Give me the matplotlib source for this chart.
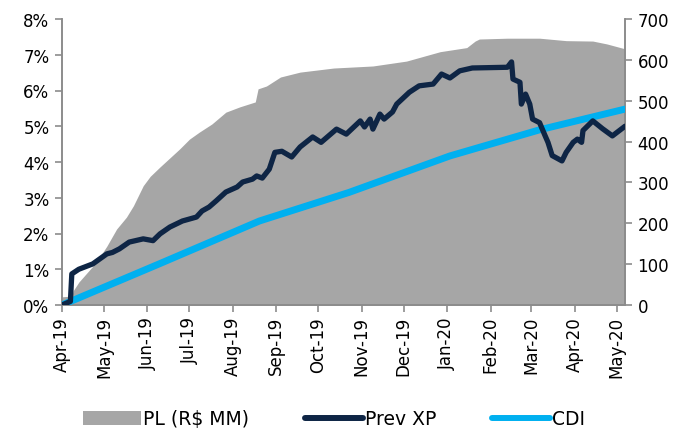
import matplotlib
matplotlib.use("Agg")
import matplotlib.pyplot as plt
from matplotlib.ticker import FuncFormatter, MultipleLocator
from matplotlib.patches import Patch
from matplotlib.lines import Line2D
import pandas as pd

plt.rcParams['font.family'] = ['DejaVu Sans']

# PL (R$ MM) - right axis
pl_dates = ['2019-04-01', '2019-04-08', '2019-04-09', '2019-04-13', '2019-04-23', '2019-04-28',
            '2019-05-03', '2019-05-10', '2019-05-17', '2019-05-22', '2019-05-29', '2019-06-03',
            '2019-06-10', '2019-06-17', '2019-06-24', '2019-07-01', '2019-07-08', '2019-07-17',
            '2019-07-27', '2019-08-06', '2019-08-17', '2019-08-19', '2019-08-25', '2019-09-04',
            '2019-09-18', '2019-10-12', '2019-11-09', '2019-12-03', '2019-12-27', '2020-01-15',
            '2020-01-21', '2020-01-24', '2020-02-13', '2020-03-07', '2020-03-26', '2020-04-14',
            '2020-04-24', '2020-05-07']
pl_values = [20, 22, 35, 56, 95, 118,
             144, 186, 215, 243, 292, 315,
             338, 360, 382, 406, 423, 443,
             472, 485, 497, 529, 536, 558,
             570, 580, 585, 597, 620, 630,
             646, 651, 653, 653, 647, 646,
             639, 627]

# Prev XP (%) - left axis
xp_dates = ['2019-04-01', '2019-04-04', '2019-04-07', '2019-04-08', '2019-04-13', '2019-04-23',
            '2019-04-28', '2019-05-03', '2019-05-07', '2019-05-12', '2019-05-19', '2019-05-29',
            '2019-06-05', '2019-06-10', '2019-06-17', '2019-06-26', '2019-07-06', '2019-07-10',
            '2019-07-15', '2019-07-20', '2019-07-27', '2019-08-04', '2019-08-08', '2019-08-15',
            '2019-08-18', '2019-08-22', '2019-08-27', '2019-08-31', '2019-09-05', '2019-09-12',
            '2019-09-18', '2019-09-27', '2019-10-03', '2019-10-14', '2019-10-21', '2019-10-31',
            '2019-11-03', '2019-11-07', '2019-11-09', '2019-11-14', '2019-11-17', '2019-11-23',
            '2019-11-26', '2019-12-05', '2019-12-12', '2019-12-22', '2019-12-28', '2020-01-03',
            '2020-01-10', '2020-01-19', '2020-02-13', '2020-02-16', '2020-02-17', '2020-02-22',
            '2020-02-23', '2020-02-26', '2020-02-29', '2020-03-02', '2020-03-07', '2020-03-11',
            '2020-03-13', '2020-03-16', '2020-03-23', '2020-03-26', '2020-03-31', '2020-04-03',
            '2020-04-06', '2020-04-07', '2020-04-14', '2020-04-21', '2020-04-28', '2020-05-07']
xp_values = [0.00, 0.05, 0.10, 0.87, 1.00, 1.15,
             1.29, 1.43, 1.47, 1.57, 1.76, 1.85,
             1.80, 1.99, 2.18, 2.35, 2.46, 2.63,
             2.74, 2.91, 3.16, 3.30, 3.44, 3.52,
             3.61, 3.55, 3.80, 4.27, 4.30, 4.14,
             4.42, 4.70, 4.55, 4.92, 4.78, 5.15,
             4.98, 5.20, 4.92, 5.34, 5.20, 5.40,
             5.62, 5.95, 6.13, 6.18, 6.46, 6.35,
             6.55, 6.63, 6.65, 6.80, 6.32, 6.23,
             5.62, 5.90, 5.62, 5.20, 5.10, 4.73,
             4.55, 4.18, 4.03, 4.27, 4.55, 4.64,
             4.55, 4.88, 5.15, 4.93, 4.73, 5.00]

# CDI (%) - left axis
cdi_dates = ['2019-04-01', '2019-06-10', '2019-08-20', '2019-10-23', '2020-01-03', '2020-03-07', '2020-05-07']
cdi_values = [0.00, 1.16, 2.35, 3.15, 4.17, 4.90, 5.48]

month_labels = ['Apr-19', 'May-19', 'Jun-19', 'Jul-19', 'Aug-19', 'Sep-19', 'Oct-19',
                'Nov-19', 'Dec-19', 'Jan-20', 'Feb-20', 'Mar-20', 'Apr-20', 'May-20']
legend_labels = ['PL (R$ MM)', 'Prev XP', 'CDI']

GRAY = '#A6A6A6'
NAVY = '#0E2545'
BLUE = '#00B0F0'
AXC = '#8C8C8C'

fig = plt.figure(figsize=(6.81, 4.31), dpi=100)
ax = fig.add_axes([62/681, (431-306)/431, (625-62)/681, (306-20)/431])
ax2 = ax.twinx()

pd_pl = pd.to_datetime(pl_dates)
pd_xp = pd.to_datetime(xp_dates)
pd_cdi = pd.to_datetime(cdi_dates)

ax2.fill_between(pd_pl, pl_values, 0, color=GRAY, lw=0, zorder=1)
ax2.set_ylim(0, 700)
ax2.yaxis.set_major_locator(MultipleLocator(100))

ax.set_zorder(ax2.get_zorder() + 1)
ax.patch.set_visible(False)
ax.plot(pd_cdi, cdi_values, color=BLUE, lw=5, solid_capstyle='round', zorder=3)
ax.plot(pd_xp, xp_values, color=NAVY, lw=3.8, solid_joinstyle='round', solid_capstyle='round', zorder=4)
ax.set_ylim(0, 8)
ax.yaxis.set_major_locator(MultipleLocator(1))
ax.yaxis.set_major_formatter(FuncFormatter(lambda v, p: f"{v:.0f}%"))

ax.set_xlim(pd.Timestamp('2019-04-01'), pd.Timestamp('2020-05-07'))
ticks = pd.date_range('2019-04-01', '2020-05-01', freq='MS')
ax.set_xticks(ticks)
ax.set_xticklabels(month_labels, rotation=90)

for a in (ax, ax2):
    a.spines['top'].set_visible(False)
    for s in ('left', 'right', 'bottom'):
        a.spines[s].set_color(AXC)
        a.spines[s].set_linewidth(1.2)
    a.tick_params(colors=AXC, labelcolor='black', labelsize=12, length=5, width=1.2)

ax.tick_params(axis='x', pad=3)
ax.tick_params(axis='y', pad=4)
ax2.tick_params(axis='y', pad=4)

handles = [Patch(facecolor=GRAY, edgecolor='none'),
           Line2D([0], [0], color=NAVY, lw=4.3, solid_capstyle='round'),
           Line2D([0], [0], color=BLUE, lw=4.3, solid_capstyle='round')]
fig.legend(handles, legend_labels, loc='center left', bbox_to_anchor=(83/681, 11/431),
           ncol=3, frameon=False, fontsize=13.5, handlelength=3.1, handleheight=0.8,
           columnspacing=2.95, handletextpad=0.12, borderpad=0, borderaxespad=0)

fig.savefig('out.png', dpi=100)
